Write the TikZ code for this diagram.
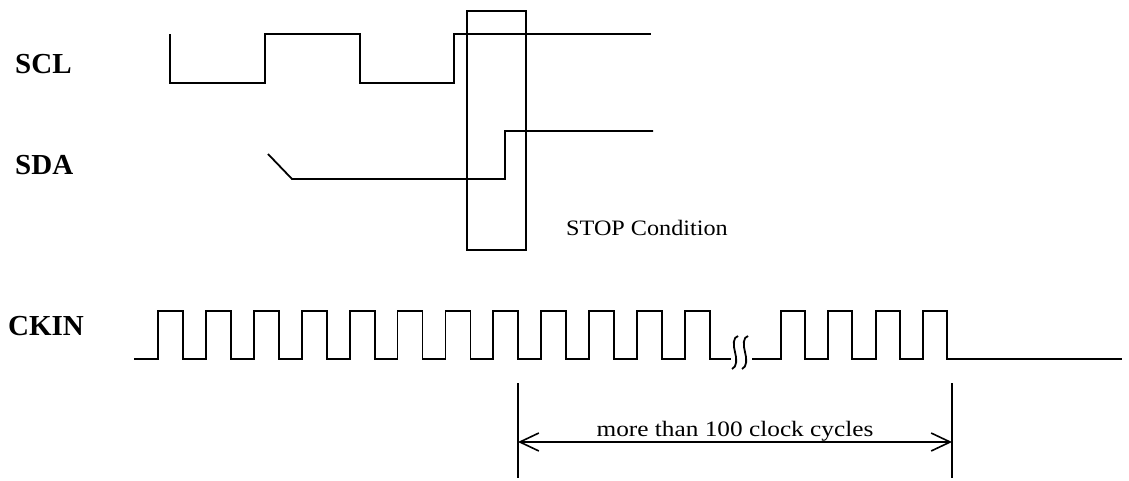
\documentclass[tikz,border=0pt]{standalone}
\usepackage{fontspec}
\setmainfont{Liberation Serif}
\usetikzlibrary{arrows.meta}
\begin{document}
\begin{tikzpicture}[x=1pt,y=-1pt,
  wave/.style={line width=1.8pt, line join=miter},
  siglabel/.style={font=\fontsize{29}{29}\selectfont\bfseries, anchor=base west, inner sep=0pt},
  note/.style={font=\fontsize{22}{22}\selectfont, anchor=base, inner sep=0pt},
  dimarrow/.style={line width=1.6pt, {Straight Barb[length=19pt,width=18pt]}-{Straight Barb[length=19pt,width=18pt]}}]
\useasboundingbox (0,0) rectangle (1129,480);
\fill[white] (0,0) rectangle (1129,480);
% labels
\node[siglabel] (scl) at (15,73) {SCL};
\node[siglabel] (sda) at (15,174) {SDA};
\node[siglabel] (ckin) at (8,335) {CKIN};
\node[note] (stop) at (647,235) {\scalebox{1.1}[1]{STOP Condition}};
\node[note] (cyc) at (735,436) {\scalebox{1.15}[1]{more than 100 clock cycles}};
% SCL
\draw[wave] (170,34) -- (170,83) -- (265,83) -- (265,34) -- (360,34) -- (360,83) -- (454,83) -- (454,34) -- (651,34);
% SDA
\draw[wave] (268,154) -- (292,179) -- (505,179) -- (505,131) -- (653,131);
% STOP box
\draw[wave] (467,11) rectangle (526,250);
% CKIN
\draw[wave] (134,359) foreach \i in {0,...,11} { -- ({158+47.9*\i},359) -- ({158+47.9*\i},311) -- ({183+47.9*\i},311) -- ({183+47.9*\i},359) } -- (731,359);
\draw[wave] (752,359) foreach \x in {781,828,876,923} { -- (\x,359) -- (\x,311) -- ({\x+24},311) -- ({\x+24},359) } -- (1122,359);
% break marks
\foreach \x in {735,745}
  \draw[line width=1.8pt] ({\x+3},336) .. controls ({\x-2},337) and ({\x-2},345) .. (\x,352) .. controls ({\x+2},359) and ({\x+2},367) .. ({\x-3},369);
% dimension
\draw[wave] (518,383) -- (518,478);
\draw[wave] (952,383) -- (952,478);
\coordinate (da) at (518,442);
\coordinate (db) at (952,442);
\draw[dimarrow] (da) -- (db);
\end{tikzpicture}
\end{document}
